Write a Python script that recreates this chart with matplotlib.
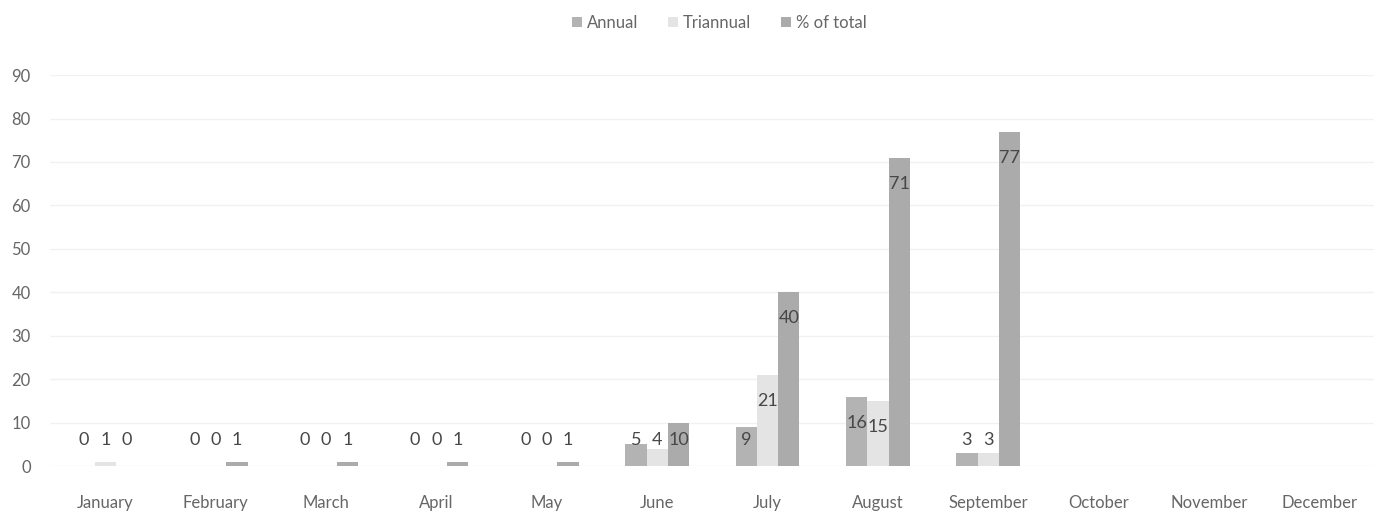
import matplotlib
matplotlib.use("Agg")
import matplotlib.pyplot as plt
import numpy as np

plt.rcParams['font.family'] = ['Lato', 'DejaVu Sans']

# data
months = ["January", "February", "March", "April", "May", "June", "July",
          "August", "September", "October", "November", "December"]
annual = [0, 0, 0, 0, 0, 5, 9, 16, 3]
triannual = [1, 0, 0, 0, 0, 4, 21, 15, 3]
pct_total = [0, 1, 1, 1, 1, 10, 40, 71, 77]

series = [("Annual", annual, "#b3b3b3"),
          ("Triannual", triannual, "#e4e4e4"),
          ("% of total", pct_total, "#ababab")]

fig = plt.figure(figsize=(13.94, 5.14), dpi=100)
ax = fig.add_axes([0.036, 0.093, 0.95, 0.761])

w = 0.193
x = np.arange(len(annual))
for i, (name, vals, col) in enumerate(series):
    pos = x + (i - 1) * w
    ax.bar(pos, vals, w, color=col, label=name, zorder=2)
    # labels sit a bit below the bar top, never lower than ~6
    for p, v in zip(pos, vals):
        ax.text(p, max(v - 6, 6), str(v), ha="center", va="center",
                fontsize=13, color="#474747", zorder=3)

ax.set_xlim(-0.5, len(months) - 0.5)
ax.set_ylim(0, 90)
ax.set_yticks(range(0, 100, 10))
ax.set_xticks(range(len(months)))
ax.set_xticklabels(months)
ax.yaxis.grid(True, color="#f1f1f1", linewidth=1, zorder=0)
ax.tick_params(axis="both", length=0, labelsize=12, colors="#666666")
ax.tick_params(axis="x", pad=21)
ax.tick_params(axis="y", pad=14)
for s in ax.spines.values():
    s.set_visible(False)

fig.legend(loc="upper center", bbox_to_anchor=(0.516, 1.0), ncol=3,
           frameon=False, fontsize=12, handlelength=0.6, handleheight=0.6,
           columnspacing=1.8, handletextpad=0.3, labelcolor="#666666")

fig.savefig("out.png", dpi=100)
